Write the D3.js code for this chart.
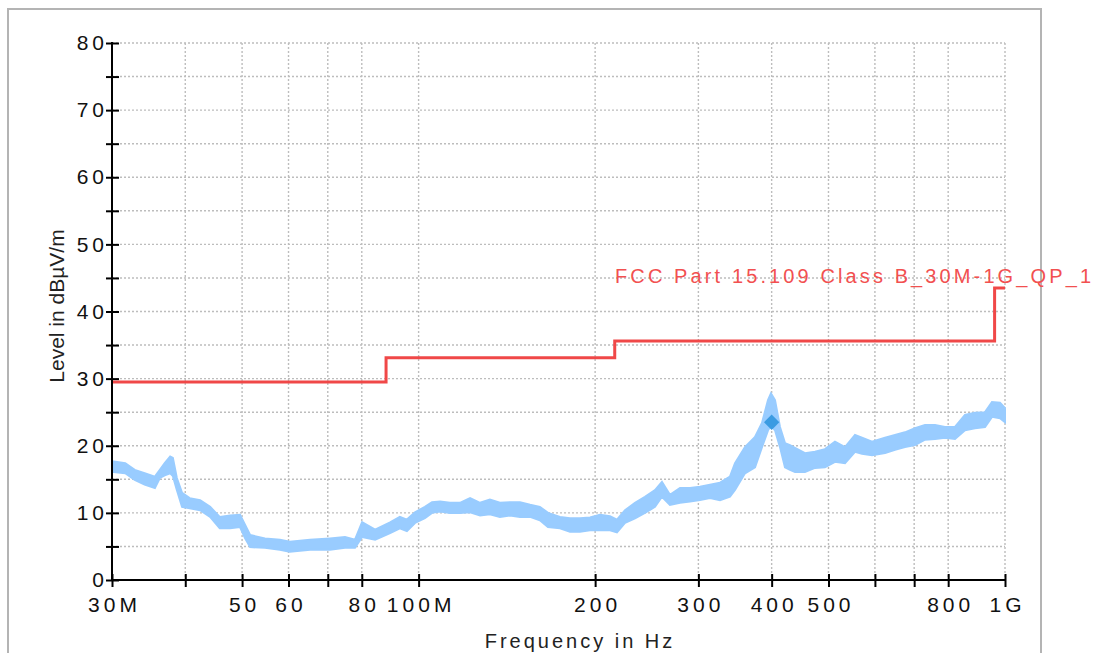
<!DOCTYPE html>
<html>
<head>
<meta charset="utf-8">
<script src="https://cdn.jsdelivr.net/npm/d3@7"></script>
<style>
  body { margin: 0; background: #fff; }
  text { font-family: "Liberation Sans", Arial, sans-serif; }
</style>
</head>
<body>
<svg id="chart"></svg>
<script>
// measured trace (MHz, upper and lower edge of the noisy band in dBuV/m)
var traceFreq = [30, 31.6, 32.8, 34.1, 35.5, 36.2, 36.9, 37.7, 38.1, 38.7, 39.5, 40.7, 42.4, 44.1, 45.8, 47.7, 49.6, 50.6, 51.6, 54.7, 58.0, 60.3, 65.3, 70.6, 74.9, 77.9, 80.1, 84.3, 89.4, 92.9, 95.5, 98.6, 102.5, 105.4, 108.8, 113.1, 117.6, 122.4, 127.3, 132.3, 137.6, 143.2, 148.9, 154.9, 161.0, 166.2, 174.2, 181.2, 188.4, 196.0, 203.8, 212.0, 217.9, 224.9, 233.9, 243.2, 253.0, 260.0, 268.3, 279.1, 290.3, 301.9, 314.0, 326.6, 339.6, 346.4, 360.2, 374.7, 385.1, 394.3, 398.9, 405.3, 413.3, 421.5, 429.9, 438.4, 455.9, 474.2, 493.2, 512.9, 533.5, 554.9, 570.3, 593.2, 624.3, 649.3, 675.2, 702.3, 730.4, 759.7, 790.1, 821.7, 854.6, 888.8, 924.5, 950.2, 980.6, 1000];
var traceHi = [17.7, 17.4, 16.4, 15.9, 15.4, 16.4, 17.4, 18.4, 18.2, 15.2, 13.0, 12.2, 11.9, 10.9, 9.4, 9.6, 9.7, 8.2, 6.7, 6.2, 6.0, 5.7, 6.0, 6.2, 6.4, 6.0, 8.6, 7.5, 8.6, 9.4, 9.0, 10.1, 10.9, 11.6, 11.7, 11.5, 11.5, 12.2, 11.5, 12.0, 11.5, 11.6, 11.6, 11.2, 10.9, 10.0, 9.4, 9.2, 9.2, 9.3, 9.7, 9.5, 9.0, 10.4, 11.5, 12.4, 13.4, 14.6, 12.7, 13.7, 13.7, 13.9, 14.2, 14.5, 15.4, 17.4, 19.8, 21.3, 23.4, 26.8, 27.8, 26.8, 22.8, 20.4, 20.1, 19.7, 18.9, 19.1, 19.5, 20.6, 19.8, 21.6, 21.2, 20.6, 21.2, 21.6, 22.0, 22.6, 23.1, 23.1, 22.8, 22.8, 24.6, 24.9, 25.0, 26.5, 26.4, 25.6];
var traceLo = [16.1, 15.9, 14.9, 14.2, 13.7, 15.2, 15.6, 15.9, 15.5, 13.4, 10.9, 10.7, 10.4, 9.4, 7.7, 7.7, 7.9, 6.2, 4.9, 4.8, 4.5, 4.2, 4.5, 4.5, 4.8, 4.8, 6.4, 6.0, 7.0, 7.7, 7.3, 8.5, 9.2, 10.0, 10.2, 10.0, 10.0, 10.1, 9.6, 9.8, 9.4, 9.6, 9.4, 9.4, 8.9, 7.9, 7.7, 7.2, 7.2, 7.4, 7.4, 7.4, 7.1, 8.5, 9.2, 10.0, 10.9, 12.4, 11.2, 11.5, 11.7, 11.9, 12.2, 11.9, 12.4, 13.4, 15.9, 16.8, 19.8, 22.3, 23.0, 22.3, 19.8, 16.8, 16.4, 16.1, 16.1, 16.7, 16.8, 17.6, 17.4, 19.1, 18.8, 18.6, 18.9, 19.4, 19.8, 20.1, 20.9, 21.0, 21.2, 21.0, 22.3, 22.6, 22.8, 24.3, 24.1, 23.5];

// FCC Part 15.109 Class B limit (10 m)
var limitFreq = [30, 88, 88, 216, 216, 960, 960, 1000];
var limitLevel = [29.5, 29.5, 33.1, 33.1, 35.6, 35.6, 43.5, 43.5];

// peak marker
var markFreq = [400];
var markLevel = [23.5];

var xTicks = [30, 40, 50, 60, 70, 80, 100, 200, 300, 400, 500, 600, 700, 800, 1000];
var xTickLabels = ["30M", "", "50", "60", "", "80", "100M", "200", "300", "400", "500", "", "", "800", "1G"];
var yTicks = [0, 5, 10, 15, 20, 25, 30, 35, 40, 45, 50, 55, 60, 65, 70, 75, 80];

var W = 1098, H = 653;
var svg = d3.select("#chart").attr("width", W).attr("height", H);

// panel frame
svg.append("rect").attr("x", 8).attr("y", 9).attr("width", 1033).attr("height", 700)
  .attr("fill", "#fff").attr("stroke", "#b4b4b4").attr("stroke-width", 2);

var x = d3.scaleLog().domain([30, 1000]).range([112, 1005]);
var y = d3.scaleLinear().domain([0, 80]).range([580, 43]);

// grid
svg.append("g").selectAll("line").data(yTicks.filter(function(d) { return d > 0; })).enter()
  .append("line")
  .attr("x1", 112).attr("x2", 1005)
  .attr("y1", function(d) { return y(d); }).attr("y2", function(d) { return y(d); })
  .attr("stroke", "#bdbdbd").attr("stroke-width", 1.4).attr("stroke-dasharray", "2,2");
svg.append("g").selectAll("line").data(xTicks.slice(1)).enter()
  .append("line")
  .attr("x1", function(d) { return x(d); }).attr("x2", function(d) { return x(d); })
  .attr("y1", 43).attr("y2", 580)
  .attr("stroke", "#bdbdbd").attr("stroke-width", 1.4).attr("stroke-dasharray", "2,2");

// trace band
var band = d3.area()
  .x(function(d, i) { return x(traceFreq[i]); })
  .y0(function(d, i) { return y(traceLo[i]); })
  .y1(function(d, i) { return y(traceHi[i]); });
svg.append("path").datum(traceFreq).attr("d", band)
  .attr("fill", "#99ccff").attr("stroke", "#99ccff").attr("stroke-width", 2)
  .attr("stroke-linejoin", "miter");

// limit line
var lim = d3.line()
  .x(function(d, i) { return x(limitFreq[i]); })
  .y(function(d, i) { return y(limitLevel[i]); });
svg.append("path").datum(limitFreq).attr("d", lim)
  .attr("fill", "none").attr("stroke", "#f04848").attr("stroke-width", 3);

svg.append("text").attr("x", 615).attr("y", 283)
  .attr("fill", "#f25050").attr("font-size", "20px")
  .attr("textLength", 476).attr("lengthAdjust", "spacing")
  .text("FCC Part 15.109 Class B_30M-1G_QP_1");

// marker
svg.append("g").selectAll("path").data(markFreq).enter()
  .append("path")
  .attr("d", d3.symbol().type(d3.symbolDiamond2).size(150))
  .attr("transform", function(d, i) { return "translate(" + x(d) + "," + y(markLevel[i]) + ")"; })
  .attr("fill", "#3b9be2");

// axes
var yAxis = d3.axisLeft(y).tickValues(yTicks).tickSize(6)
  .tickFormat(function(d) { return d % 10 === 0 ? d : ""; });
var gy = svg.append("g").attr("transform", "translate(112,0)").call(yAxis);
gy.select(".domain").remove();
gy.selectAll(".tick line").attr("x1", -6).attr("x2", 7).attr("stroke", "#000").attr("stroke-width", 2);
gy.selectAll(".tick text").attr("x", -4).attr("font-size", "21px").attr("letter-spacing", "4px")
  .attr("font-family", "Liberation Sans, Arial, sans-serif").attr("fill", "#111");
gy.append("line").attr("x1", 0).attr("x2", 0).attr("y1", 580).attr("y2", 42)
  .attr("stroke", "#000").attr("stroke-width", 2);

var xAxis = d3.axisBottom(x).tickValues(xTicks).tickSize(6)
  .tickFormat(function(d, i) { return xTickLabels[i]; });
var gx = svg.append("g").attr("transform", "translate(0,580)").call(xAxis);
gx.select(".domain").remove();
gx.selectAll(".tick line").attr("y1", -6).attr("y2", 7).attr("stroke", "#000").attr("stroke-width", 2);
gx.selectAll(".tick text").attr("y", 17).attr("dx", "2px").attr("font-size", "21px").attr("letter-spacing", "4px")
  .attr("font-family", "Liberation Sans, Arial, sans-serif").attr("fill", "#111");
gx.append("line").attr("x1", 111).attr("x2", 1006).attr("y1", 0).attr("y2", 0)
  .attr("stroke", "#000").attr("stroke-width", 2);

// axis titles
svg.append("text").attr("x", 580).attr("y", 648).attr("text-anchor", "middle")
  .attr("font-size", "20px").attr("letter-spacing", "3px").attr("fill", "#222")
  .text("Frequency in Hz");
svg.append("text").attr("transform", "translate(64,306) rotate(-90)").attr("text-anchor", "middle")
  .attr("font-size", "21px").attr("fill", "#222")
  .text("Level in dBµV/m");
</script>
</body>
</html>
